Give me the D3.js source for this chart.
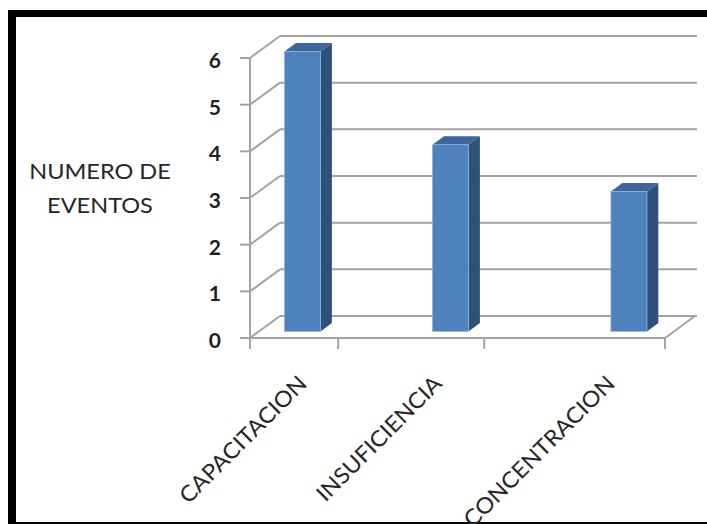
<!DOCTYPE html>
<html>
<head>
<meta charset="utf-8">
<script src="https://cdn.jsdelivr.net/npm/d3@7"></script>
<style>
  html, body { margin: 0; padding: 0; background: #fff; }
  svg { display: block; }
</style>
</head>
<body>
<script>
// Events per cause
const categories = ["CAPACITACION", "INSUFICIENCIA", "CONCENTRACION"];
const eventos = [6, 4, 3];
const yTicks = [0, 1, 2, 3, 4, 5, 6];
const yTitleLines = ["NUMERO DE", "EVENTOS"];

const W = 707, H = 524;
const svg = d3.select("body").append("svg").attr("width", W).attr("height", H);

// Black frame
svg.append("rect").attr("x", 8).attr("y", 10).attr("width", W - 8).attr("height", H - 10).attr("fill", "#000");
svg.append("rect").attr("x", 16).attr("y", 17).attr("width", W - 16).attr("height", 505).attr("fill", "#fff");

// 3D box geometry
const DX = 30, DY = 22;          // depth offset of the back wall
const axisX = 250, wallRight = 697;
const y = d3.scaleLinear().domain([0, 6]).range([338, 58]);
// perspective-like horizontal scales for floor and columns
const xFloor = d3.scalePow().exponent(1.41).domain([0, categories.length]).range([axisX, 665]);
const xBar = d3.scalePow().exponent(1.26).domain([0, categories.length]).range([253, 726]);

const gridColor = "#a3a3a3";
const grid = svg.append("g").attr("stroke", gridColor).attr("stroke-width", 2).attr("fill", "none");

// back wall gridlines
grid.selectAll("line.back").data(yTicks).join("line").attr("class", "back")
  .attr("x1", axisX + DX).attr("x2", wallRight)
  .attr("y1", d => y(d) - DY).attr("y2", d => y(d) - DY);
// side wall slants
grid.selectAll("line.side").data(yTicks).join("line").attr("class", "side")
  .attr("x1", axisX).attr("x2", axisX + DX)
  .attr("y1", d => y(d)).attr("y2", d => y(d) - DY);
// value axis ticks
grid.selectAll("line.tick").data(yTicks).join("line").attr("class", "tick")
  .attr("x1", axisX - 10).attr("x2", axisX)
  .attr("y1", d => y(d)).attr("y2", d => y(d));
// value axis line
grid.append("line").attr("x1", axisX).attr("x2", axisX).attr("y1", y(0)).attr("y2", y(6));
// floor front edge and right edge
grid.append("line").attr("x1", axisX).attr("x2", xFloor(categories.length)).attr("y1", y(0)).attr("y2", y(0));
grid.append("line")
  .attr("x1", xFloor(categories.length)).attr("y1", y(0))
  .attr("x2", xFloor(categories.length) + DX).attr("y2", y(0) - DY);
// category ticks
grid.selectAll("line.ctick").data(d3.range(categories.length + 1)).join("line").attr("class", "ctick")
  .attr("x1", d => xFloor(d)).attr("x2", d => xFloor(d))
  .attr("y1", y(0)).attr("y2", y(0) + 11);

// Columns
const barW = 36, z0 = 0.3, zD = 0.38;
const bdx = zD * DX, bdy = zD * DY;
const bars = svg.append("g").selectAll("g").data(eventos).join("g");
bars.each(function (v, i) {
  const g = d3.select(this);
  const fx = xBar(i + 0.5) - barW / 2;
  const top = y(v) - z0 * DY;
  const bot = y(0) - z0 * DY;
  g.append("path")
    .attr("d", `M${fx + barW},${top}L${fx + barW + bdx},${top - bdy}L${fx + barW + bdx},${bot - bdy}L${fx + barW},${bot}Z`)
    .attr("fill", "#2f5079");
  g.append("path")
    .attr("d", `M${fx},${top}L${fx + bdx},${top - bdy}L${fx + barW + bdx},${top - bdy}L${fx + barW},${top}Z`)
    .attr("fill", "#3d679c");
  g.append("rect")
    .attr("x", fx).attr("y", top).attr("width", barW).attr("height", bot - top)
    .attr("fill", "#4f81bd").attr("stroke", "#8fb2de").attr("stroke-width", 0.8);
});

const font = "Lato, 'Open Sans', sans-serif";

// widen text slightly, like the wide face it is set in
function widen(sel, k) {
  sel.each(function () {
    const len = this.getComputedTextLength();
    d3.select(this).attr("textLength", len * k).attr("lengthAdjust", "spacingAndGlyphs");
  });
}

// value tick labels
svg.append("g").selectAll("text").data(yTicks).join("text")
  .attr("x", 221).attr("y", d => y(d) + 10)
  .attr("text-anchor", "end")
  .attr("font-family", font).attr("font-weight", "bold").attr("font-size", 21)
  .attr("fill", "#1f1f1f")
  .text(d => d);

// axis title
const title = svg.append("g").selectAll("text").data(yTitleLines).join("text")
  .attr("x", 100).attr("y", (d, i) => 179 + i * 34)
  .attr("text-anchor", "middle")
  .attr("font-family", font).attr("font-size", 21)
  .attr("fill", "#262626")
  .text(d => d);
widen(title, 1.12);

// category labels
const cats = svg.append("g").selectAll("text").data(categories).join("text")
  .attr("text-anchor", "end")
  .attr("transform", (d, i) => `translate(${xFloor(i + 0.745)},385) rotate(-45)`)
  .attr("font-family", font).attr("font-size", 22)
  .attr("fill", "#262626")
  .text(d => d);
widen(cats, 1.07);
</script>
</body>
</html>
